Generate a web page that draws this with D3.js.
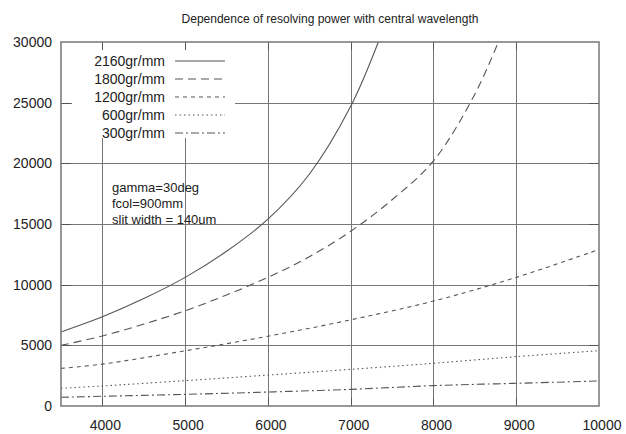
<html>
    <script src="https://d3js.org/d3.v7.min.js"></script>
    <style>
    body{ margin:0; background:#fff; }
    text{ font-family:"Liberation Sans", Arial, sans-serif; fill:#222; }
    </style>
    <body>
    <script>

        // values
        let xTicks = [4000, 5000, 6000, 7000, 8000, 9000, 10000];
        let yTicks = [0, 5000, 10000, 15000, 20000, 25000, 30000];

        let lambda2160 = [3500, 4000, 4500, 5000, 5500, 6000, 6500, 7000, 7334];
        let r2160      = [6100, 7350, 8850, 10600, 12750, 15400, 19100, 24700, 30000];

        let lambda1800 = [3500, 4000, 4500, 5000, 5500, 6000, 6500, 7000, 7500, 8000, 8500, 8784];
        let r1800      = [5000, 5770, 6750, 7850, 9150, 10600, 12300, 14400, 17000, 20200, 25700, 30000];

        let lambdaAll  = [3500, 4000, 5000, 6000, 7000, 8000, 9000, 10000];
        let r1200      = [3100, 3450, 4550, 5750, 7100, 8650, 10600, 12900];
        let r600       = [1460, 1650, 2090, 2550, 3020, 3520, 4070, 4560];
        let r300       = [720, 800, 960, 1150, 1370, 1680, 1870, 2060];

        let seriesNames = ["2160gr/mm", "1800gr/mm", "1200gr/mm", "600gr/mm", "300gr/mm"];
        let notes = ["gamma=30deg", "fcol=900mm", "slit width = 140um"];

        let series = [
            {name: seriesNames[0], x: lambda2160, y: r2160, dash: null},
            {name: seriesNames[1], x: lambda1800, y: r1800, dash: "8,5"},
            {name: seriesNames[2], x: lambdaAll,  y: r1200, dash: "4,4"},
            {name: seriesNames[3], x: lambdaAll,  y: r600,  dash: "1.5,3"},
            {name: seriesNames[4], x: lambdaAll,  y: r300,  dash: "8,3,2,3"}
        ];

        let width = 626, height = 434;
        let margin = {top: 42, right: 27, bottom: 28, left: 61};
        let lineColor = "#555";

        let svg = d3.select("body").append("svg")
            .attr("width", width)
            .attr("height", height);

        let x = d3.scaleLinear().domain([3500, 10000]).range([margin.left, width - margin.right]);
        let y = d3.scaleLinear().domain([0, 30000]).range([height - margin.bottom, margin.top]);

        // title
        svg.append("text")
            .attr("x", (x.range()[0] + x.range()[1]) / 2)
            .attr("y", 23)
            .attr("text-anchor", "middle")
            .style("font-size", "12px")
            .text("Dependence of resolving power with central wavelength");

        // grid
        let grid = svg.append("g").attr("stroke", "#777").attr("stroke-width", 1);
        grid.selectAll(".vgrid").data(xTicks.filter(d => d < 10000)).enter().append("line")
            .attr("x1", d => Math.round(x(d)) + 0.5).attr("x2", d => Math.round(x(d)) + 0.5)
            .attr("y1", y(0)).attr("y2", y(30000));
        grid.selectAll(".hgrid").data(yTicks.filter(d => d > 0 && d < 30000)).enter().append("line")
            .attr("y1", d => Math.round(y(d)) + 0.5).attr("y2", d => Math.round(y(d)) + 0.5)
            .attr("x1", x(3500)).attr("x2", x(10000));

        // curves
        svg.append("clipPath").attr("id", "plotClip").append("rect")
            .attr("x", x(3500)).attr("y", y(30000))
            .attr("width", x(10000) - x(3500)).attr("height", y(0) - y(30000));

        let line = d3.line()
            .x(d => x(d[0]))
            .y(d => y(d[1]))
            .curve(d3.curveCatmullRom);

        svg.append("g").attr("clip-path", "url(#plotClip)")
            .selectAll("path").data(series).enter().append("path")
            .attr("d", s => line(d3.zip(s.x, s.y)))
            .attr("fill", "none")
            .attr("stroke", lineColor)
            .attr("stroke-width", 1.1)
            .attr("stroke-dasharray", s => s.dash);

        // legend with white box hiding the grid
        svg.append("rect")
            .attr("x", 72).attr("y", 50)
            .attr("width", 163).attr("height", 88)
            .attr("fill", "#fff");

        let legend = svg.append("g");
        let rows = legend.selectAll("g").data(series).enter().append("g")
            .attr("transform", (d, i) => `translate(0, ${61 + i * 18})`);
        rows.append("text")
            .attr("x", 165).attr("y", 5)
            .attr("text-anchor", "end")
            .style("font-size", "14px")
            .text(d => d.name);
        rows.append("line")
            .attr("x1", 175).attr("x2", 225)
            .attr("stroke", lineColor)
            .attr("stroke-width", 1.1)
            .attr("stroke-dasharray", d => d.dash);

        // annotation
        svg.append("g").selectAll("text").data(notes).enter().append("text")
            .attr("x", 112)
            .attr("y", (d, i) => 192 + i * 16)
            .style("font-size", "13px")
            .text(d => d);

        // border ticks
        let ticks = svg.append("g").attr("stroke", "#555").attr("stroke-width", 1);
        xTicks.filter(d => d < 10000).forEach(d => {
            let px = Math.round(x(d)) + 0.5;
            ticks.append("line").attr("x1", px).attr("x2", px).attr("y1", y(30000)).attr("y2", y(30000) + 8);
            ticks.append("line").attr("x1", px).attr("x2", px).attr("y1", y(0)).attr("y2", y(0) - 8);
        });
        yTicks.filter(d => d > 0 && d < 30000).forEach(d => {
            let py = Math.round(y(d)) + 0.5;
            ticks.append("line").attr("y1", py).attr("y2", py).attr("x1", x(3500)).attr("x2", x(3500) + 10);
            ticks.append("line").attr("y1", py).attr("y2", py).attr("x1", x(10000)).attr("x2", x(10000) - 10);
        });

        // border
        svg.append("rect")
            .attr("x", x(3500)).attr("y", y(30000))
            .attr("width", x(10000) - x(3500)).attr("height", y(0) - y(30000))
            .attr("fill", "none")
            .attr("stroke", "#777")
            .attr("stroke-width", 1.5);

        // tick labels
        svg.append("g").selectAll("text").data(xTicks).enter().append("text")
            .attr("x", d => x(d) + 3)
            .attr("y", 430)
            .attr("text-anchor", "middle")
            .style("font-size", "14px")
            .text(d => d);
        svg.append("g").selectAll("text").data(yTicks).enter().append("text")
            .attr("x", 52)
            .attr("y", d => y(d) + 5)
            .attr("text-anchor", "end")
            .style("font-size", "14px")
            .text(d => d);

    </script>
    </body>
</html>
